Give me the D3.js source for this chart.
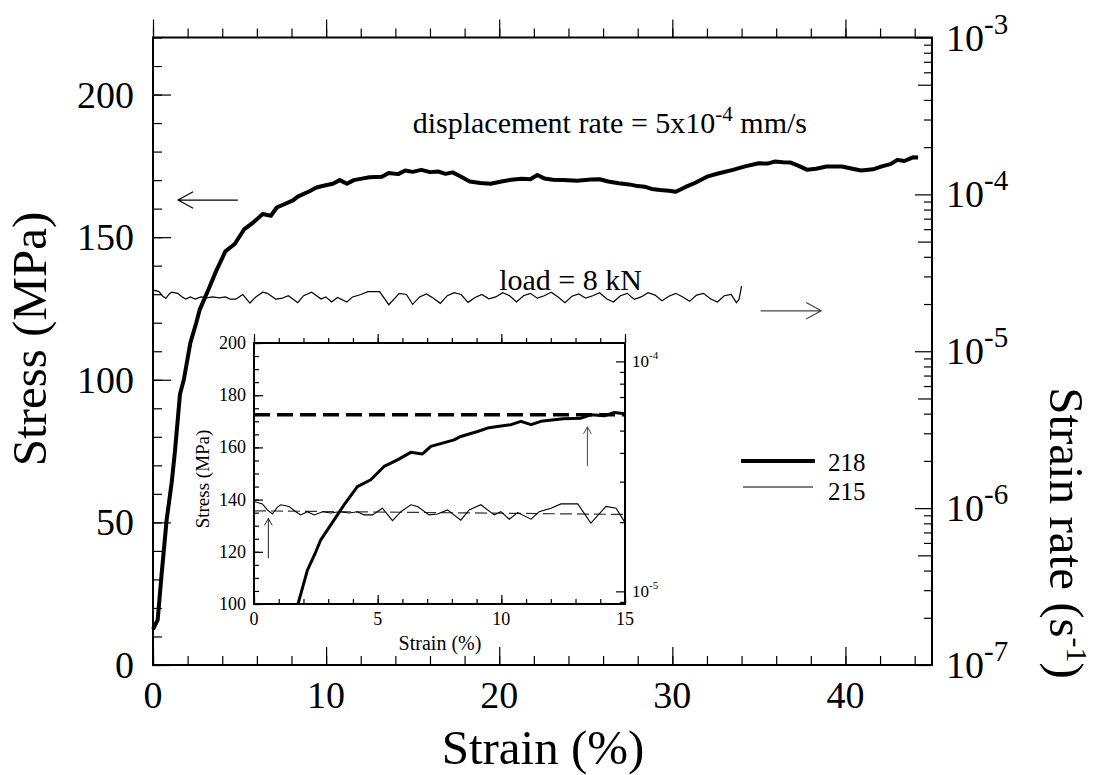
<!DOCTYPE html>
<meta charset="utf-8">
<script src="https://d3js.org/d3.v7.min.js"></script>
<style>
  body { margin: 0; background: #fff; }
  text { font-family: "Liberation Serif", "Times New Roman", serif; fill: #000; }
</style>
<div id="chart"></div>
<script>

// specimen 218 : stress (MPa) vs strain (%)
var curve218 = [
  [0,12.5],[0.27,15.8],[0.5,32],[0.79,51],[1.08,64],[1.27,75],[1.56,95],[1.78,100],
  [2.16,113],[2.5,120],[2.7,124.6],[3.24,132.2],[3.64,138],[4.18,145],[4.72,147.6],
  [5.26,152.7],[5.8,155.2],[6.34,158.1],[6.81,157.5],[7.15,160.4],[8.09,162.9],
  [8.36,164.2],[9.04,166.1],[9.44,167.4],[9.85,168],[10.39,168.7],[10.79,170],
  [11.2,168.7],[11.6,170],[12.14,170.6],[12.5,171],[13.22,171.2],[13.62,172.5],
  [14.16,172.1],[14.57,173.4],[15,172.9],[15.5,173.6],[16.0,172.8],[16.5,173.0],
  [16.9,172.2],[17.3,172.7],[17.8,171.2],[18.3,169.5],[18.9,169.0],[19.5,168.7],
  [20.2,169.6],[20.7,170.1],[21.3,170.5],[21.8,170.3],[22.2,171.8],[22.6,170.6],
  [23.1,170.1],[23.7,170.0],[24.5,169.8],[25.3,170.2],[25.8,170.3],[26.3,169.5],
  [26.9,168.9],[27.5,168.5],[28.0,167.9],[28.4,167.7],[28.8,166.9],[29.3,166.5],
  [29.8,166.3],[30.2,165.9],[30.8,167.7],[31.3,169.0],[32.0,171.2],[32.7,172.4],
  [33.5,173.6],[34.2,174.8],[35.0,175.9],[35.5,175.8],[35.9,176.5],[36.4,176.3],
  [36.8,176.2],[37.3,175.0],[37.8,173.6],[38.3,174.0],[38.9,174.8],[39.8,174.8],
  [40.4,174.0],[40.9,173.4],[41.6,173.8],[42.1,174.8],[42.6,175.6],[43.0,177.1],
  [43.4,176.7],[43.9,178.0],[44.2,177.9]
];

// specimen 215 : strain rate (x 1e-5 1/s) vs strain (%)
var curve215 = [
  [0,2.46],[0.34,2.40],[0.54,2.26],[0.74,2.17],[0.94,2.32],[1.08,2.38],[1.42,2.34],
  [1.69,2.22],[1.89,2.15],[2.16,2.22],[2.43,2.15],[2.77,2.22],[3.10,2.19],[3.44,2.22],
  [3.84,2.19],[4.18,2.22],[4.45,2.15],[4.79,2.15],[5.19,2.30],[5.60,2.03],[5.94,2.22],
  [6.34,2.38],[6.61,2.34],[7.08,2.15],[7.42,2.17],[7.82,2.26],[8.36,2.04],[8.70,2.26],
  [9.17,2.38],[9.71,2.15],[9.98,2.22],[10.32,2.06],[10.66,2.20],[11.20,2.06],[11.53,2.22],
  [12.01,2.30],[12.41,2.40],[13.09,2.40],[13.62,1.98],[14.23,2.34],[14.64,2.30],[15.0,1.99],
  [15.4,2.22],[15.8,2.32],[16.2,2.18],[16.6,2.02],[17.0,2.26],[17.4,2.36],[17.8,2.30],
  [18.2,2.05],[18.6,2.20],[19.0,2.30],[19.4,2.16],[19.8,2.22],[20.2,2.36],[20.6,2.26],
  [21.0,2.06],[21.4,2.26],[21.8,2.34],[22.2,2.18],[22.6,2.26],[23.0,2.38],[23.4,2.22],
  [23.8,2.04],[24.2,2.24],[24.6,2.32],[25.0,2.18],[25.4,2.26],[25.8,2.36],[26.2,2.16],
  [26.6,2.06],[27.0,2.26],[27.4,2.34],[27.8,2.14],[28.2,2.22],[28.6,2.36],[29.0,2.28],
  [29.4,2.10],[29.8,2.24],[30.2,2.34],[30.6,2.22],[31.0,2.08],[31.4,2.28],[31.8,2.34],
  [32.2,2.16],[32.6,2.06],[33.0,2.26],[33.4,2.30],[33.7,2.04],[33.85,2.14],[34.0,2.60]
];

// inset reference levels (steady state)
var steadyStress = [[0,172.5],[15,172.5]];
var steadyRate = [[0,2.24],[15,2.16]];

// tick values
var strainTicks = [0,10,20,30,40];
var stressTicks = [0,50,100,150,200];
var rateExps = [-7,-6,-5,-4,-3];
var insetStrainTicks = [0,5,10,15];
var insetStressTicks = [100,120,140,160,180,200];
var insetRateExps = [-5,-4];

var legendNames = ["218","215"];

var W = 1104, H = 775;
var svg = d3.select("#chart").append("svg")
  .attr("width", W).attr("height", H);

// main scales
var x = d3.scaleLinear().domain([0,45]).range([153,932]);
var y = d3.scaleLinear().domain([0,220]).range([665,37.5]);
var yr = d3.scaleLog().domain([1e-7,1e-3]).range([665,37.5]);

// log minor tick helper
function logTicks(e0, e1, which) {
  var out = [];
  for (var e = e0; e < e1; e++) {
    for (var k = 2; k <= 9; k++) {
      if (which === "mid" && k !== 5) continue;
      if (which === "minor" && k === 5) continue;
      out.push(k * Math.pow(10, e));
    }
  }
  return out;
}

function tickGroup(g, axis) {
  g.call(axis);
  g.select(".domain").remove();
  g.selectAll(".tick line").attr("stroke", "#000").attr("stroke-width", 1.2);
  return g;
}

// ---- main axes ----
var xMinor = d3.range(0, 45, 2);
[[665, d3.axisBottom], [37.5, d3.axisTop]].forEach(function(p) {
  var s = p[0] === 665 ? -1 : 1;
  tickGroup(svg.append("g").attr("transform", "translate(0," + p[0] + ")"),
    p[1](x).tickValues(xMinor).tickSize(9 * s).tickFormat(""));
  tickGroup(svg.append("g").attr("transform", "translate(0," + p[0] + ")"),
    p[1](x).tickValues(strainTicks).tickSize(18 * s).tickFormat(""));
});

tickGroup(svg.append("g").attr("transform", "translate(153,0)"),
  d3.axisLeft(y).tickValues(d3.range(0, 221, 10)).tickSize(-9).tickFormat(""));
tickGroup(svg.append("g").attr("transform", "translate(153,0)"),
  d3.axisLeft(y).tickValues(stressTicks).tickSize(-18).tickFormat(""));

tickGroup(svg.append("g").attr("transform", "translate(932,0)"),
  d3.axisRight(yr).tickValues(logTicks(-7, -3, "minor")).tickSize(-8).tickFormat(""));
tickGroup(svg.append("g").attr("transform", "translate(932,0)"),
  d3.axisRight(yr).tickValues(logTicks(-7, -3, "mid")).tickSize(-14).tickFormat(""));
tickGroup(svg.append("g").attr("transform", "translate(932,0)"),
  d3.axisRight(yr).tickValues(rateExps.map(function(e){ return Math.pow(10, e); })).tickSize(-17).tickFormat(""));

// tick labels
svg.append("g").selectAll("text").data(strainTicks).join("text")
  .attr("x", function(d){ return x(d); }).attr("y", 708)
  .attr("text-anchor", "middle").style("font-size", "38px")
  .text(function(d){ return d; });

svg.append("g").selectAll("text").data(stressTicks).join("text")
  .attr("x", 134).attr("y", function(d){ return y(d) + 13; })
  .attr("text-anchor", "end").style("font-size", "38px")
  .text(function(d){ return d; });

var rl = svg.append("g").selectAll("text").data(rateExps).join("text")
  .attr("x", 946).attr("y", function(d){ return yr(Math.pow(10, d)) + 13; })
  .style("font-size", "38px");
rl.append("tspan").text("10");
rl.append("tspan").attr("dy", -17).style("font-size", "29px")
  .text(function(d){ return d; });

// axis titles
svg.append("text")
  .attr("transform", "translate(543,764)")
  .attr("text-anchor", "middle").style("font-size", "49px")
  .text("Strain (%)");

svg.append("text")
  .attr("transform", "translate(46,339) rotate(-90)")
  .attr("text-anchor", "middle").style("font-size", "49px")
  .text("Stress (MPa)");

var rt = svg.append("text")
  .attr("transform", "translate(1050,533) rotate(90)")
  .attr("text-anchor", "middle").style("font-size", "49px");
rt.append("tspan").text("Strain rate (s");
rt.append("tspan").attr("dy", -17).style("font-size", "30px").text("-1");
rt.append("tspan").attr("dy", 17).text(")");

// ---- main curves ----
var line218 = d3.line().x(function(d){ return x(d[0]); }).y(function(d){ return y(d[1]); });
var line215 = d3.line().x(function(d){ return x(d[0]); }).y(function(d){ return yr(d[1] * 1e-5); });

svg.append("path").datum(curve215).attr("d", line215)
  .attr("fill", "none").attr("stroke", "#000").attr("stroke-width", 1.2);
svg.append("path").datum(curve218).attr("d", line218)
  .attr("fill", "none").attr("stroke", "#000").attr("stroke-width", 4)
  .attr("stroke-linejoin", "round");

// frame
svg.append("rect").attr("x", 153).attr("y", 37.5).attr("width", 779).attr("height", 627.5)
  .attr("fill", "none").attr("stroke", "#000").attr("stroke-width", 2);

// annotations
function arrow(g, x1, y1, x2, y2, head, color, sw) {
  var a = Math.atan2(y2 - y1, x2 - x1), h = head, w = head * 0.55;
  var bx = x2 - h * Math.cos(a), by = y2 - h * Math.sin(a);
  var nx = -Math.sin(a) * w, ny = Math.cos(a) * w;
  g.append("path")
    .attr("d", "M" + x1 + "," + y1 + "L" + x2 + "," + y2 +
      "M" + (bx + nx) + "," + (by + ny) + "L" + x2 + "," + y2 + "L" + (bx - nx) + "," + (by - ny))
    .attr("fill", "none").attr("stroke", color).attr("stroke-width", sw);
}
arrow(svg, x(4.9), y(163), x(1.45), y(163), 15, "#000", 1.2);
arrow(svg, x(35.1), yr(1.81e-5), x(38.6), yr(1.81e-5), 15, "#444", 1.2);

var t1 = svg.append("text").attr("x", x(15.0)).attr("y", 133).style("font-size", "30px");
t1.append("tspan").text("displacement rate = 5x10");
t1.append("tspan").attr("dy", -12).style("font-size", "21px").text("-4");
t1.append("tspan").attr("dy", 12).text(" mm/s");

svg.append("text").attr("x", x(20.0)).attr("y", 290).style("font-size", "30px")
  .text("load = 8 kN");

// legend
var lg = svg.append("g");
lg.append("line").attr("x1", 741).attr("x2", 815).attr("y1", 461).attr("y2", 461)
  .attr("stroke", "#000").attr("stroke-width", 4);
lg.append("line").attr("x1", 743).attr("x2", 813).attr("y1", 487).attr("y2", 487)
  .attr("stroke", "#000").attr("stroke-width", 1.2);
lg.selectAll("text").data(legendNames).join("text")
  .attr("x", 828).attr("y", function(d, i){ return 471 + i * 29; })
  .style("font-size", "25px").text(function(d){ return d; });

// ---- inset ----
var ix = d3.scaleLinear().domain([0,15]).range([254,625]);
var iy = d3.scaleLinear().domain([100,200]).range([604,343]);
var iyr = d3.scaleLog().domain([Math.pow(10,-5.055), Math.pow(10,-3.92)]).range([604,343]);

var inset = svg.append("g");
inset.append("rect").attr("x", 254).attr("y", 343).attr("width", 371).attr("height", 261)
  .attr("fill", "#fff");

svg.append("clipPath").attr("id", "insetClip").append("rect")
  .attr("x", 254).attr("y", 343).attr("width", 371).attr("height", 261);

[[604, d3.axisBottom, -1], [343, d3.axisTop, 1]].forEach(function(p) {
  tickGroup(inset.append("g").attr("transform", "translate(0," + p[0] + ")"),
    p[1](ix).tickValues(d3.range(0, 16, 1)).tickSize(5 * p[2]).tickFormat(""));
  tickGroup(inset.append("g").attr("transform", "translate(0," + p[0] + ")"),
    p[1](ix).tickValues(insetStrainTicks).tickSize(9 * p[2]).tickFormat(""));
});
tickGroup(inset.append("g").attr("transform", "translate(254,0)"),
  d3.axisLeft(iy).tickValues(d3.range(100, 201, 5)).tickSize(-5).tickFormat(""));
tickGroup(inset.append("g").attr("transform", "translate(254,0)"),
  d3.axisLeft(iy).tickValues(insetStressTicks).tickSize(-9).tickFormat(""));
tickGroup(inset.append("g").attr("transform", "translate(625,0)"),
  d3.axisRight(iyr).tickValues(logTicks(-6, -3, "all").filter(function(v){
    return v >= iyr.domain()[0] && v <= iyr.domain()[1]; })).tickSize(-5).tickFormat(""));
tickGroup(inset.append("g").attr("transform", "translate(625,0)"),
  d3.axisRight(iyr).tickValues(insetRateExps.map(function(e){ return Math.pow(10, e); }))
    .tickSize(-9).tickFormat(""));

inset.append("g").selectAll("text").data(insetStrainTicks).join("text")
  .attr("x", function(d){ return ix(d); }).attr("y", 625)
  .attr("text-anchor", "middle").style("font-size", "18px")
  .text(function(d){ return d; });
inset.append("g").selectAll("text").data(insetStressTicks).join("text")
  .attr("x", 246).attr("y", function(d){ return iy(d) + 6; })
  .attr("text-anchor", "end").style("font-size", "18px")
  .text(function(d){ return d; });
var irl = inset.append("g").selectAll("text").data(insetRateExps).join("text")
  .attr("x", 632).attr("y", function(d){ return iyr(Math.pow(10, d)) + 6; })
  .style("font-size", "17px");
irl.append("tspan").text("10");
irl.append("tspan").attr("dy", -8).style("font-size", "11px").text(function(d){ return d; });

inset.append("text").attr("x", 440).attr("y", 650)
  .attr("text-anchor", "middle").style("font-size", "20px").text("Strain (%)");
inset.append("text").attr("transform", "translate(209,479) rotate(-90)")
  .attr("text-anchor", "middle").style("font-size", "19px").text("Stress (MPa)");

var iline218 = d3.line().x(function(d){ return ix(d[0]); }).y(function(d){ return iy(d[1]); });
var iline215 = d3.line().x(function(d){ return ix(d[0]); }).y(function(d){ return iyr(d[1] * 1e-5); });

var clipG = inset.append("g").attr("clip-path", "url(#insetClip)");
clipG.append("path").datum(steadyRate).attr("d", iline215)
  .attr("fill", "none").attr("stroke", "#333").attr("stroke-width", 1.2)
  .attr("stroke-dasharray", "12,5");
clipG.append("path").datum(curve215.filter(function(d){ return d[0] <= 15; })).attr("d", iline215)
  .attr("fill", "none").attr("stroke", "#000").attr("stroke-width", 1.1);
clipG.append("path").datum(steadyStress).attr("d", iline218)
  .attr("fill", "none").attr("stroke", "#000").attr("stroke-width", 3.5)
  .attr("stroke-dasharray", "16,7");
clipG.append("path").datum(curve218.filter(function(d){ return d[0] <= 15.1; })).attr("d", iline218)
  .attr("fill", "none").attr("stroke", "#000").attr("stroke-width", 3)
  .attr("stroke-linejoin", "round");

arrow(inset, ix(0.58), iy(117.5), ix(0.58), iy(132.8), 7, "#222", 1);
arrow(inset, ix(13.48), iy(152.8), ix(13.48), iy(167.9), 7, "#444", 1);

inset.append("rect").attr("x", 254).attr("y", 343).attr("width", 371).attr("height", 261)
  .attr("fill", "none").attr("stroke", "#000").attr("stroke-width", 2);

</script>
